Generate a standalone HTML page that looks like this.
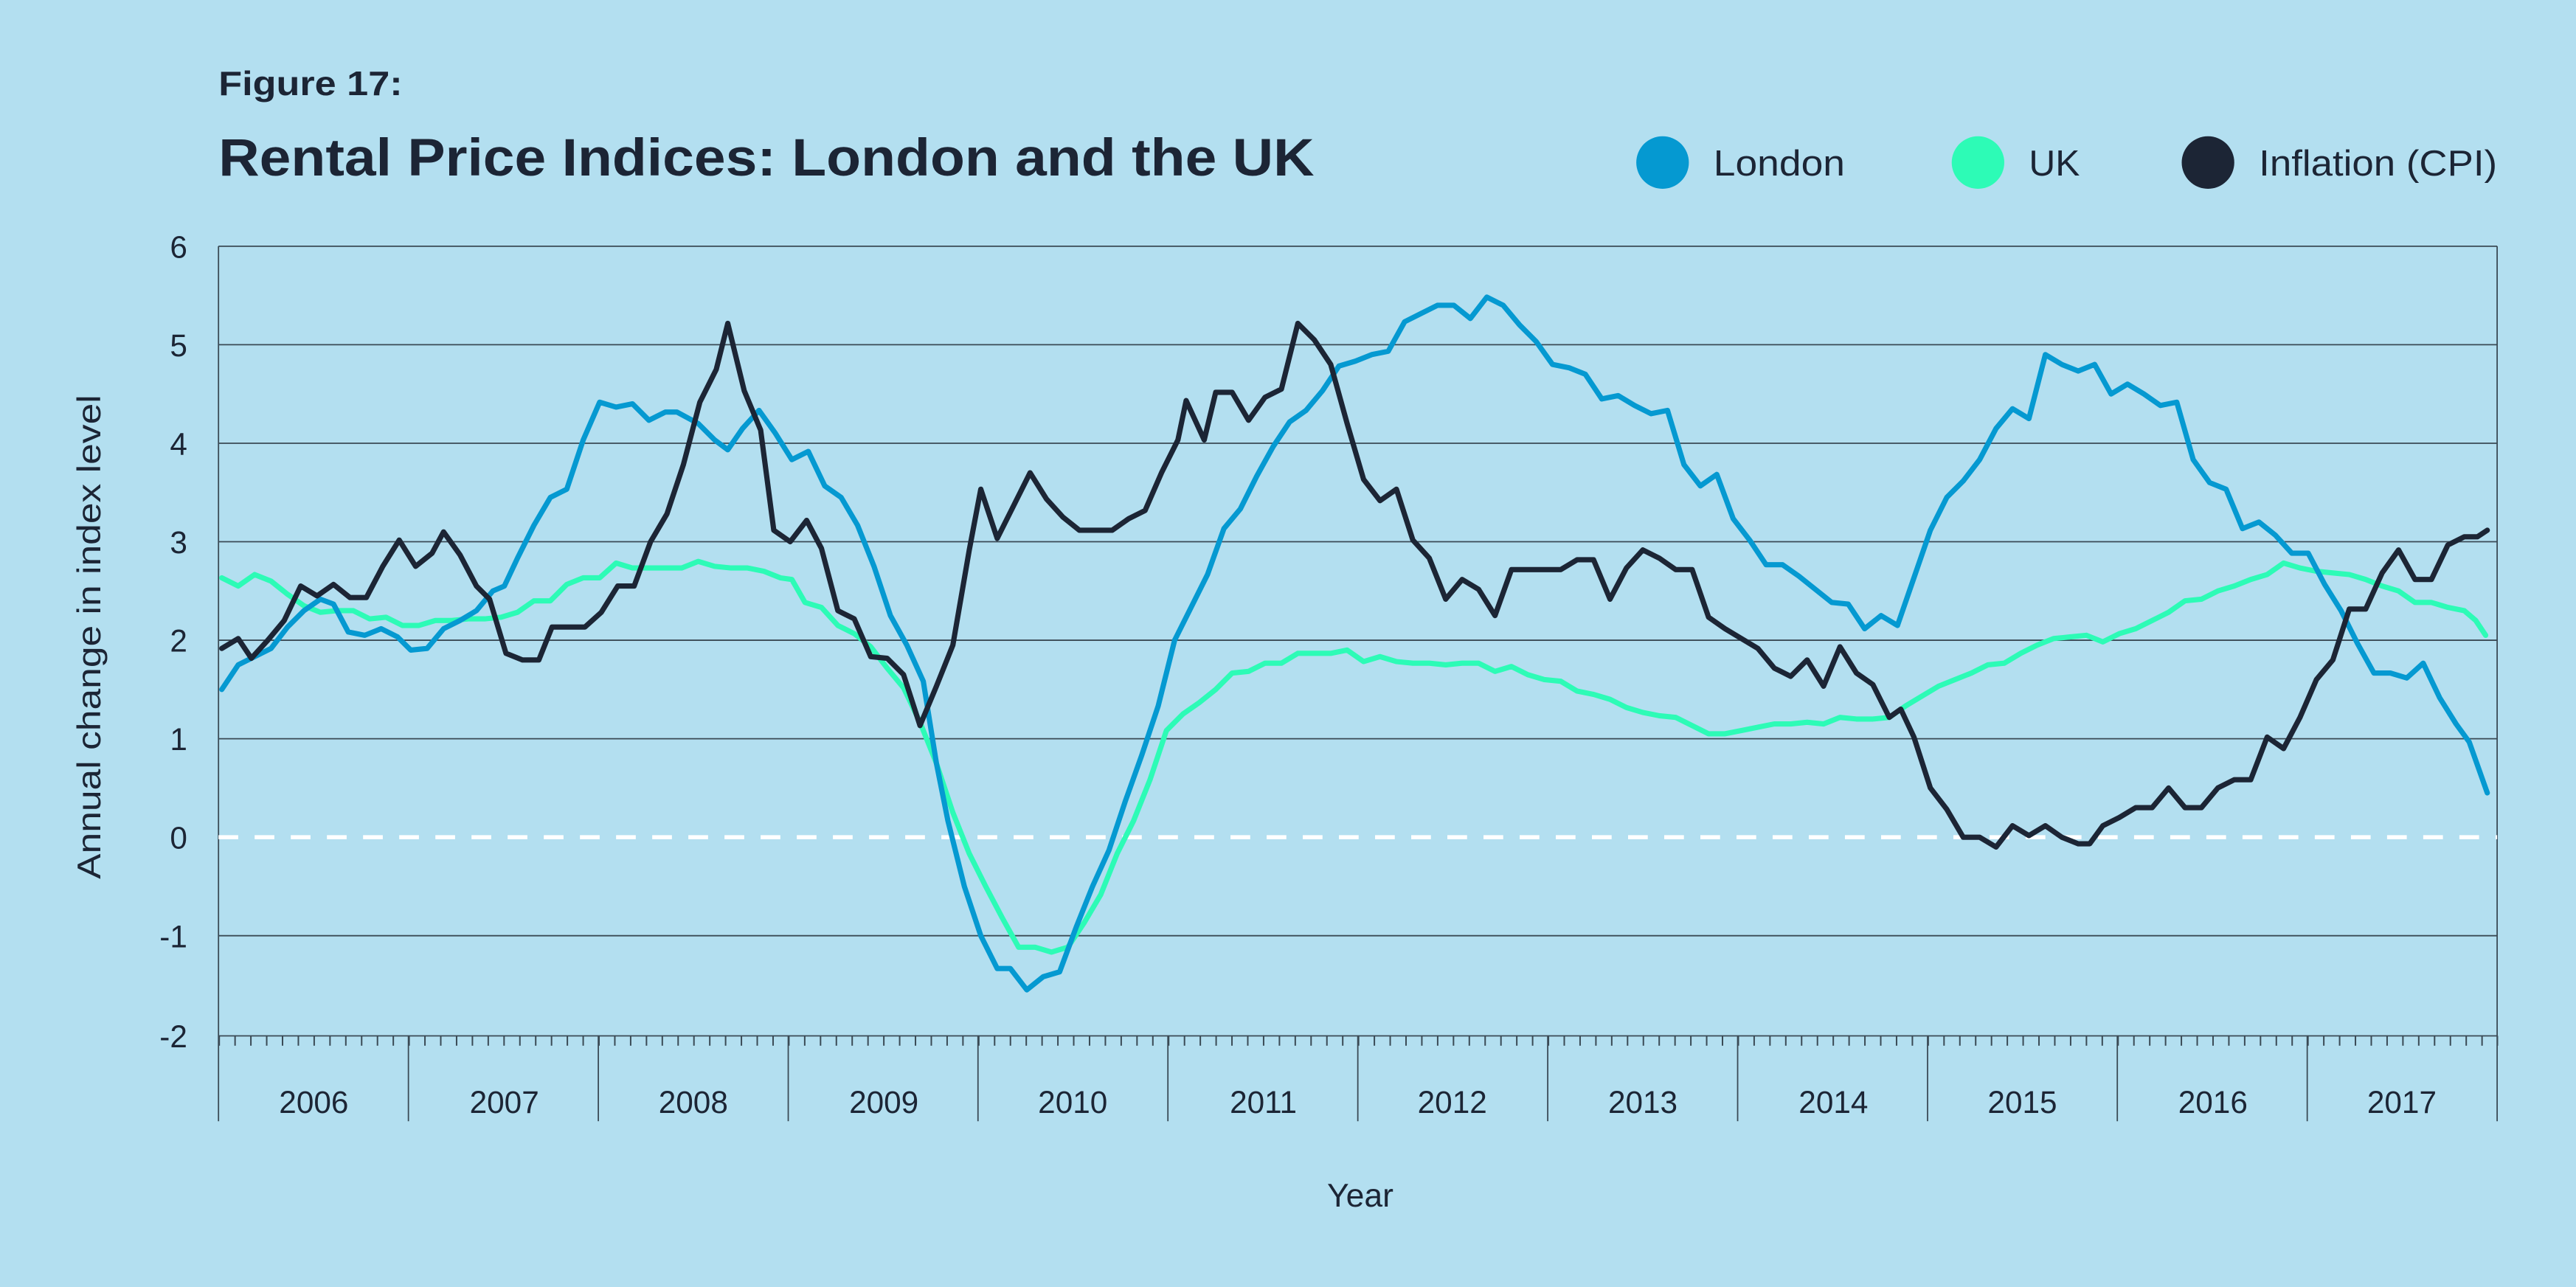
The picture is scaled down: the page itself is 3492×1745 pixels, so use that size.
<!DOCTYPE html>
<html><head><meta charset="utf-8"><style>
html,body{margin:0;padding:0;background:#b3dff0;}
svg{display:block}
text{font-family:"Liberation Sans",sans-serif;fill:#1c2535}
</style></head><body>
<svg width="3492" height="1745" viewBox="0 0 1568 784" preserveAspectRatio="none" xmlns="http://www.w3.org/2000/svg">
<defs>
<pattern id="tk" x="133" y="0" width="9.6319" height="784" patternUnits="userSpaceOnUse">
<rect x="0" y="0" width="0.9" height="784" fill="#3a4a55"/>
</pattern>
</defs>
<rect width="1568" height="784" fill="#b3dff0"/>
<text x="133" y="58" font-size="21" font-weight="bold" textLength="112" lengthAdjust="spacingAndGlyphs">Figure 17:</text>
<text x="133" y="107" font-size="32" font-weight="bold" textLength="667" lengthAdjust="spacingAndGlyphs">Rental Price Indices: London and the UK</text>
<circle cx="1012" cy="99" r="16" fill="#0599d1"/><text x="1043" y="107" font-size="22" textLength="80" lengthAdjust="spacingAndGlyphs">London</text>
<circle cx="1204" cy="99" r="16" fill="#2dfbb6"/><text x="1235" y="107" font-size="22" textLength="31" lengthAdjust="spacingAndGlyphs">UK</text>
<circle cx="1344" cy="99" r="16" fill="#1c2535"/><text x="1375" y="107" font-size="22" textLength="145" lengthAdjust="spacingAndGlyphs">Inflation (CPI)</text>
<g stroke="#3a4a55" stroke-width="0.8">
<line x1="133" y1="150" x2="1520" y2="150"/><line x1="133" y1="210" x2="1520" y2="210"/>
<line x1="133" y1="270" x2="1520" y2="270"/><line x1="133" y1="330" x2="1520" y2="330"/>
<line x1="133" y1="390" x2="1520" y2="390"/><line x1="133" y1="450" x2="1520" y2="450"/>
<line x1="133" y1="570" x2="1520" y2="570"/><line x1="133" y1="631" x2="1520" y2="631"/>
<line x1="133" y1="150" x2="133" y2="683"/><line x1="1520" y1="150" x2="1520" y2="683"/>
<line x1="248.6" y1="631" x2="248.6" y2="683"/><line x1="364.2" y1="631" x2="364.2" y2="683"/>
<line x1="479.8" y1="631" x2="479.8" y2="683"/><line x1="595.3" y1="631" x2="595.3" y2="683"/>
<line x1="710.9" y1="631" x2="710.9" y2="683"/><line x1="826.5" y1="631" x2="826.5" y2="683"/>
<line x1="942.1" y1="631" x2="942.1" y2="683"/><line x1="1057.7" y1="631" x2="1057.7" y2="683"/>
<line x1="1173.3" y1="631" x2="1173.3" y2="683"/><line x1="1288.8" y1="631" x2="1288.8" y2="683"/>
<line x1="1404.4" y1="631" x2="1404.4" y2="683"/>
</g>
<rect x="132.6" y="631" width="1388" height="6" fill="url(#tk)"/>
<line x1="133" y1="510" x2="1520" y2="510" stroke="#fff" stroke-width="2.5" stroke-dasharray="12,10"/>
<g font-size="19" text-anchor="end">
<text x="114" y="157">6</text><text x="114" y="217">5</text><text x="114" y="277">4</text><text x="114" y="337">3</text><text x="114" y="397">2</text><text x="114" y="457">1</text><text x="114" y="517">0</text><text x="114" y="577">-1</text><text x="114" y="638">-2</text>
</g>
<g font-size="19" text-anchor="middle">
<text x="191" y="678">2006</text><text x="307" y="678">2007</text><text x="422" y="678">2008</text><text x="538" y="678">2009</text><text x="653" y="678">2010</text><text x="769" y="678">2011</text><text x="884" y="678">2012</text><text x="1000" y="678">2013</text><text x="1116" y="678">2014</text><text x="1231" y="678">2015</text><text x="1347" y="678">2016</text><text x="1462" y="678">2017</text>
</g>
<text x="828" y="735" font-size="20" text-anchor="middle">Year</text>
<text transform="translate(61,388) rotate(-90)" font-size="20" text-anchor="middle" textLength="295" lengthAdjust="spacingAndGlyphs">Annual change in index level</text>
<g fill="none" stroke-width="3.2" stroke-linejoin="round" stroke-linecap="round">
<polyline stroke="#2dfbb6" points="135,352 145,357 155,350 165,354 175,362 185,369 195,373 205,372 215,372 225,377 235,376 245,381 255,381 265,378 275,378 285,377 295,377 305,376 315,373 325,366 335,366 345,356 355,352 365,352 375,343 385,346 395,346 405,346 415,346 425,342 435,345 445,346 455,346 465,348 475,352 482,353 490,367 500,370 510,381 520,386 530,394 540,407 550,419 560,440 570,465 580,495 590,520 600,540 610,559 620,577 630,577 640,580 650,577 660,562 670,545 680,520 690,500 700,475 710,445 720,435 730,428 740,420 750,410 760,409 770,404 780,404 790,398 800,398 810,398 820,396 830,403 840,400 850,403 860,404 870,404 880,405 890,404 900,404 910,409 920,406 930,411 940,414 950,415 960,421 970,423 980,426 990,431 1000,434 1010,436 1020,437 1030,442 1040,447 1050,447 1060,445 1070,443 1080,441 1090,441 1100,440 1110,441 1120,437 1130,438 1140,438 1150,437 1160,430 1170,424 1180,418 1190,414 1200,410 1210,405 1220,404 1230,398 1240,393 1250,389 1260,388 1270,387 1280,391 1290,386 1300,383 1310,378 1320,373 1330,366 1340,365 1350,360 1360,357 1370,353 1380,350 1390,343 1400,346 1410,348 1420,349 1430,350 1440,353 1450,357 1460,360 1470,367 1480,367 1490,370 1500,372 1507,378 1513,387"/>
<polyline stroke="#0599d1" points="135,420 145,405 155,400 165,395 175,382 185,372 195,365 203,368 212,385 222,387 232,383 242,388 250,396 260,395 270,383 280,378 290,372 300,360 307,357 315,340 325,320 335,303 345,298 355,268 365,245 375,248 385,246 395,256 405,251 412,251 425,258 435,268 443,274 452,261 462,250 472,264 482,280 492,275 502,296 512,303 522,320 532,345 542,375 552,393 562,415 570,465 577,500 587,540 597,570 607,590 615,590 625,603 635,595 645,592 655,565 665,540 675,518 685,488 695,460 705,430 715,390 725,370 735,350 745,322 755,310 765,290 775,272 785,257 795,250 805,238 815,223 825,220 835,216 845,214 855,196 865,191 875,186 885,186 895,194 905,181 915,186 925,198 935,208 945,222 955,224 965,228 975,243 985,241 995,247 1005,252 1015,250 1025,283 1035,296 1045,289 1055,316 1065,329 1075,344 1085,344 1095,351 1115,367 1125,368 1135,383 1145,375 1155,381 1165,352 1175,323 1185,303 1195,293 1205,280 1215,261 1225,249 1235,255 1245,216 1255,222 1265,226 1275,222 1285,240 1295,234 1305,240 1315,247 1325,245 1335,280 1345,294 1355,298 1365,322 1375,318 1385,326 1395,337 1405,337 1415,356 1425,372 1435,392 1445,410 1455,410 1465,413 1475,404 1485,425 1495,441 1503,452 1514,483"/>
<polyline stroke="#1c2535" points="135,395 145,389 153,401 163,390 173,378 183,357 193,363 203,356 213,364 223,364 233,345 243,329 253,345 263,337 270,324 280,338 290,357 298,365 308,398 318,402 328,402 336,382 346,382 356,382 366,373 376,357 386,357 396,330 406,313 416,283 426,245 436,225 443,197 453,238 463,262 471,323 481,330 491,317 500,334 510,372 520,377 530,400 540,401 550,411 560,442 570,418 580,393 590,335 597,298 607,328 617,308 627,288 637,304 647,315 657,323 667,323 677,323 687,316 697,311 707,288 717,268 722,244 733,268 740,239 750,239 760,256 770,242 780,237 790,197 800,207 810,222 820,258 830,292 840,305 850,298 860,329 870,340 880,365 890,353 900,359 910,375 920,347 930,347 940,347 950,347 960,341 970,341 980,365 990,346 1000,335 1010,340 1020,347 1030,347 1040,376 1050,383 1060,389 1070,395 1080,407 1090,412 1100,402 1110,418 1120,394 1130,410 1140,417 1150,437 1157,432 1165,449 1175,480 1185,493 1195,510 1205,510 1215,516 1225,503 1235,509 1245,503 1255,510 1265,514 1272,514 1280,503 1290,498 1300,492 1310,492 1320,480 1330,492 1340,492 1350,480 1360,475 1370,475 1380,449 1390,456 1400,437 1410,414 1420,402 1430,371 1440,371 1450,349 1460,335 1470,353 1480,353 1490,332 1500,327 1508,327 1514,323"/>
</g>
</svg>
</body></html>
